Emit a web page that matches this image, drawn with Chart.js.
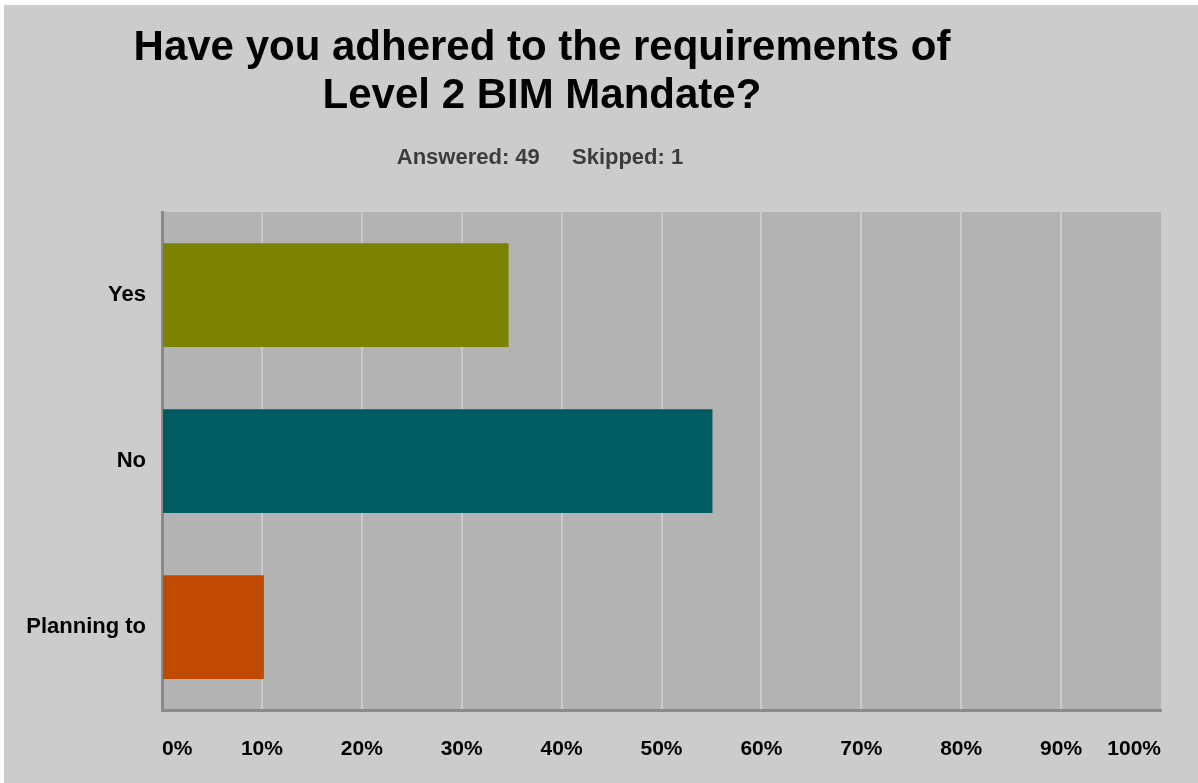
<!DOCTYPE html>
<html>
<head>
<meta charset="utf-8">
<title>Level 2 BIM Mandate</title>
<script src="https://cdn.jsdelivr.net/npm/chart.js@4.4.1/dist/chart.umd.min.js"></script>
<style>
    body {
        margin: 0;
        background: #ffffff;
    }
    #panel {
        position: absolute;
        left: 4px;
        top: 5px;
        width: 1194px;
        height: 778px;
        background: #cccccc;
        font-family: 'Liberation Sans', Arial, sans-serif;
    }
    #title {
        position: absolute;
        left: 0;
        top: 17px;
        width: 1076px;
        text-align: center;
        font-size: 42px;
        font-weight: bold;
        line-height: 48px;
        color: #000;
    }
    #summary {
        position: absolute;
        left: 0;
        top: 139px;
        width: 1072px;
        text-align: center;
        font-size: 22px;
        font-weight: bold;
        line-height: 26px;
        color: #3c3c3c;
    }
    #summary span + span {
        margin-left: 26px;
    }
    canvas {
        position: absolute;
        left: 0;
        top: 0;
    }
</style>
</head>
<body>
<div id="panel">
    <canvas id="bimChart" width="1194" height="778"></canvas>
    <div id="title">Have you adhered to the requirements of<br>Level 2 BIM Mandate?</div>
    <div id="summary"><span>Answered: 49</span> <span>Skipped: 1</span></div>
</div>

<script>
const categories = ['Yes', 'No', 'Planning to'];
const responses = [34.69, 55.10, 10.20];
const tickLabels = ['0%', '10%', '20%', '30%', '40%', '50%', '60%', '70%', '80%', '90%', '100%'];

const barColors = ['#7b8300', '#005c60', '#c04a00'];
const fontFamily = "'Liberation Sans', Arial, sans-serif";

// grey plot background behind the bars
const plotBackground = {
    id: 'plotBackground',
    beforeDraw(chart) {
        const { ctx, chartArea } = chart;
        ctx.save();
        ctx.fillStyle = '#b3b3b3';
        ctx.fillRect(chartArea.left, chartArea.top, chartArea.right - chartArea.left, chartArea.bottom - chartArea.top);
        ctx.restore();
    }
};

const ctx = document.getElementById('bimChart').getContext('2d');

new Chart(ctx, {
    type: 'bar',
    data: {
        labels: categories,
        datasets: [{
            data: responses,
            backgroundColor: barColors,
            borderWidth: 0,
            categoryPercentage: 1,
            barPercentage: 0.625
        }]
    },
    options: {
        indexAxis: 'y',
        responsive: false,
        animation: false,
        devicePixelRatio: 1,
        layout: {
            padding: { top: 207, right: 37, bottom: 0, left: 0 }
        },
        plugins: {
            legend: { display: false },
            tooltip: { enabled: false }
        },
        scales: {
            x: {
                min: 0,
                max: 100,
                afterFit(scale) {
                    scale.height = 73;
                },
                ticks: {
                    stepSize: 10,
                    align: 'inner',
                    padding: 27,
                    color: '#000',
                    font: { family: fontFamily, size: 21, weight: 'bold' },
                    maxRotation: 0,
                    autoSkip: false,
                    callback: (value, index) => tickLabels[index]
                },
                grid: {
                    drawTicks: false,
                    lineWidth: 2,
                    color: c => (c.index === 0 || c.index === tickLabels.length - 1) ? 'rgba(0,0,0,0)' : '#c9c9c9'
                },
                border: {
                    display: true,
                    color: '#8a8a8a',
                    width: 3
                }
            },
            y: {
                afterFit(scale) {
                    scale.width = 158;
                },
                ticks: {
                    padding: 16,
                    color: '#000',
                    font: { family: fontFamily, size: 22, weight: 'bold' }
                },
                grid: {
                    display: false,
                    drawTicks: false
                },
                border: {
                    display: true,
                    color: '#8a8a8a',
                    width: 3
                }
            }
        }
    },
    plugins: [plotBackground]
});
</script>
</body>
</html>
